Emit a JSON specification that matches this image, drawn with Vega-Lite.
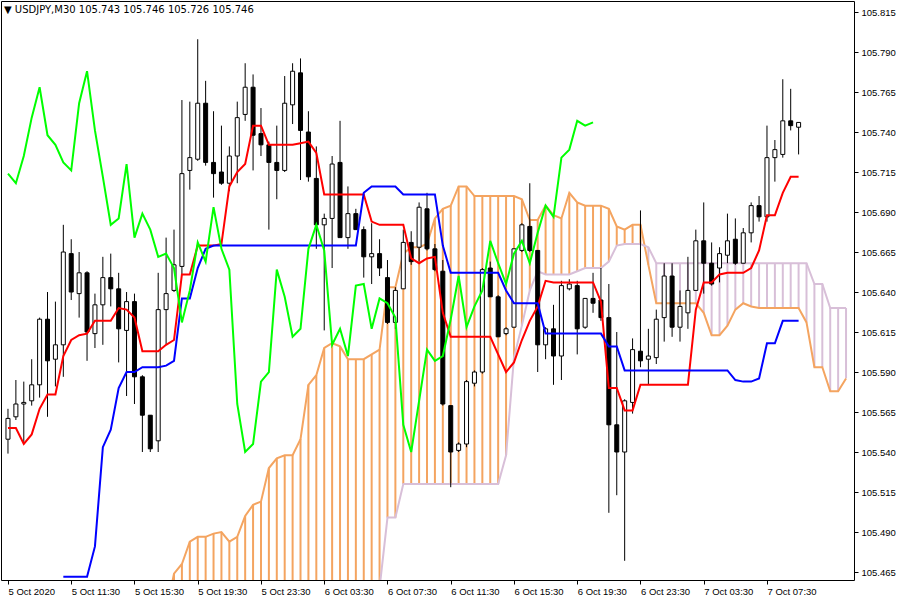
{
  "$schema": "https://vega.github.io/schema/vega-lite/v6.json",
  "width": 853,
  "height": 579,
  "autosize": {"type": "none"},
  "padding": {"left": 1, "top": 1, "right": 46, "bottom": 20},
  "background": "white",
  "title": {"text": "▼ USDJPY,M30  105.743 105.746 105.726 105.746", "anchor": "start", "frame": "group", "orient": "top", "offset": -14, "dx": 3, "fontSize": 10, "font": "DejaVu Sans", "fontWeight": "normal", "color": "black"},
  "config": {
    "view": {"stroke": "black", "strokeWidth": 1},
    "axis": {"labelFont": "Liberation Sans", "labelFontSize": 9.5, "labelColor": "black", "tickColor": "black", "grid": false, "domain": false}
  },
  "datasets": {
    "candles": [
      {"i":0,"o":105.548,"h":105.567,"l":105.539,"c":105.561},
      {"i":1,"o":105.562,"h":105.585,"l":105.560,"c":105.570},
      {"i":2,"o":105.570,"h":105.584,"l":105.545,"c":105.571},
      {"i":3,"o":105.572,"h":105.598,"l":105.569,"c":105.582},
      {"i":4,"o":105.582,"h":105.624,"l":105.574,"c":105.623},
      {"i":5,"o":105.623,"h":105.640,"l":105.562,"c":105.597},
      {"i":6,"o":105.598,"h":105.634,"l":105.581,"c":105.607},
      {"i":7,"o":105.607,"h":105.682,"l":105.587,"c":105.665},
      {"i":8,"o":105.664,"h":105.673,"l":105.635,"c":105.640},
      {"i":9,"o":105.639,"h":105.665,"l":105.624,"c":105.652},
      {"i":10,"o":105.652,"h":105.653,"l":105.597,"c":105.615},
      {"i":11,"o":105.614,"h":105.639,"l":105.605,"c":105.632},
      {"i":12,"o":105.632,"h":105.662,"l":105.607,"c":105.649},
      {"i":13,"o":105.649,"h":105.664,"l":105.631,"c":105.642},
      {"i":14,"o":105.642,"h":105.652,"l":105.596,"c":105.617},
      {"i":15,"o":105.616,"h":105.640,"l":105.575,"c":105.634},
      {"i":16,"o":105.634,"h":105.639,"l":105.570,"c":105.587},
      {"i":17,"o":105.587,"h":105.588,"l":105.540,"c":105.563},
      {"i":18,"o":105.563,"h":105.563,"l":105.540,"c":105.542},
      {"i":19,"o":105.547,"h":105.652,"l":105.540,"c":105.629},
      {"i":20,"o":105.629,"h":105.674,"l":105.607,"c":105.639},
      {"i":21,"o":105.641,"h":105.679,"l":105.640,"c":105.657},
      {"i":22,"o":105.656,"h":105.760,"l":105.651,"c":105.714},
      {"i":23,"o":105.716,"h":105.759,"l":105.704,"c":105.724},
      {"i":24,"o":105.723,"h":105.798,"l":105.722,"c":105.758},
      {"i":25,"o":105.758,"h":105.772,"l":105.719,"c":105.721},
      {"i":26,"o":105.721,"h":105.753,"l":105.699,"c":105.714},
      {"i":27,"o":105.715,"h":105.744,"l":105.707,"c":105.708},
      {"i":28,"o":105.708,"h":105.731,"l":105.703,"c":105.725},
      {"i":29,"o":105.725,"h":105.759,"l":105.708,"c":105.749},
      {"i":30,"o":105.751,"h":105.783,"l":105.747,"c":105.768},
      {"i":31,"o":105.768,"h":105.776,"l":105.716,"c":105.738},
      {"i":32,"o":105.739,"h":105.755,"l":105.725,"c":105.732},
      {"i":33,"o":105.732,"h":105.734,"l":105.679,"c":105.721},
      {"i":34,"o":105.721,"h":105.744,"l":105.698,"c":105.716},
      {"i":35,"o":105.716,"h":105.775,"l":105.715,"c":105.758},
      {"i":36,"o":105.757,"h":105.783,"l":105.745,"c":105.778},
      {"i":37,"o":105.777,"h":105.786,"l":105.710,"c":105.741},
      {"i":38,"o":105.740,"h":105.753,"l":105.709,"c":105.712},
      {"i":39,"o":105.711,"h":105.731,"l":105.667,"c":105.682},
      {"i":40,"o":105.682,"h":105.689,"l":105.616,"c":105.686},
      {"i":41,"o":105.686,"h":105.725,"l":105.655,"c":105.720},
      {"i":42,"o":105.721,"h":105.747,"l":105.674,"c":105.674},
      {"i":43,"o":105.674,"h":105.706,"l":105.667,"c":105.689},
      {"i":44,"o":105.689,"h":105.692,"l":105.679,"c":105.679},
      {"i":45,"o":105.679,"h":105.681,"l":105.649,"c":105.662},
      {"i":46,"o":105.662,"h":105.683,"l":105.645,"c":105.664},
      {"i":47,"o":105.664,"h":105.673,"l":105.650,"c":105.655},
      {"i":48,"o":105.649,"h":105.660,"l":105.620,"c":105.621},
      {"i":49,"o":105.621,"h":105.643,"l":105.617,"c":105.641},
      {"i":50,"o":105.642,"h":105.679,"l":105.642,"c":105.671},
      {"i":51,"o":105.671,"h":105.678,"l":105.657,"c":105.659},
      {"i":52,"o":105.668,"h":105.696,"l":105.659,"c":105.693},
      {"i":53,"o":105.692,"h":105.702,"l":105.666,"c":105.667},
      {"i":54,"o":105.667,"h":105.670,"l":105.653,"c":105.654},
      {"i":55,"o":105.653,"h":105.660,"l":105.569,"c":105.570},
      {"i":56,"o":105.569,"h":105.569,"l":105.518,"c":105.540},
      {"i":57,"o":105.541,"h":105.546,"l":105.540,"c":105.545},
      {"i":58,"o":105.545,"h":105.585,"l":105.543,"c":105.584},
      {"i":59,"o":105.583,"h":105.591,"l":105.581,"c":105.590},
      {"i":60,"o":105.590,"h":105.655,"l":105.589,"c":105.654},
      {"i":61,"o":105.655,"h":105.659,"l":105.637,"c":105.637},
      {"i":62,"o":105.637,"h":105.638,"l":105.612,"c":105.612},
      {"i":63,"o":105.614,"h":105.618,"l":105.613,"c":105.617},
      {"i":64,"o":105.618,"h":105.667,"l":105.618,"c":105.667},
      {"i":65,"o":105.666,"h":105.683,"l":105.665,"c":105.682},
      {"i":66,"o":105.681,"h":105.708,"l":105.665,"c":105.666},
      {"i":67,"o":105.666,"h":105.666,"l":105.590,"c":105.607},
      {"i":68,"o":105.607,"h":105.618,"l":105.598,"c":105.617},
      {"i":69,"o":105.617,"h":105.632,"l":105.582,"c":105.600},
      {"i":70,"o":105.600,"h":105.647,"l":105.585,"c":105.644},
      {"i":71,"o":105.642,"h":105.648,"l":105.641,"c":105.645},
      {"i":72,"o":105.644,"h":105.647,"l":105.601,"c":105.617},
      {"i":73,"o":105.618,"h":105.636,"l":105.617,"c":105.636},
      {"i":74,"o":105.636,"h":105.652,"l":105.627,"c":105.633},
      {"i":75,"o":105.635,"h":105.655,"l":105.622,"c":105.624},
      {"i":76,"o":105.624,"h":105.645,"l":105.502,"c":105.557},
      {"i":77,"o":105.557,"h":105.615,"l":105.513,"c":105.540},
      {"i":78,"o":105.540,"h":105.573,"l":105.472,"c":105.572},
      {"i":79,"o":105.571,"h":105.611,"l":105.564,"c":105.604},
      {"i":80,"o":105.603,"h":105.691,"l":105.593,"c":105.597},
      {"i":81,"o":105.598,"h":105.617,"l":105.582,"c":105.600},
      {"i":82,"o":105.599,"h":105.629,"l":105.595,"c":105.623},
      {"i":83,"o":105.624,"h":105.658,"l":105.609,"c":105.650},
      {"i":84,"o":105.650,"h":105.658,"l":105.612,"c":105.618},
      {"i":85,"o":105.618,"h":105.641,"l":105.609,"c":105.631},
      {"i":86,"o":105.627,"h":105.662,"l":105.617,"c":105.641},
      {"i":87,"o":105.641,"h":105.679,"l":105.641,"c":105.672},
      {"i":88,"o":105.672,"h":105.696,"l":105.639,"c":105.658},
      {"i":89,"o":105.658,"h":105.671,"l":105.644,"c":105.645},
      {"i":90,"o":105.655,"h":105.668,"l":105.646,"c":105.664},
      {"i":91,"o":105.663,"h":105.689,"l":105.658,"c":105.672},
      {"i":92,"o":105.673,"h":105.686,"l":105.657,"c":105.658},
      {"i":93,"o":105.658,"h":105.680,"l":105.658,"c":105.677},
      {"i":94,"o":105.677,"h":105.696,"l":105.671,"c":105.694},
      {"i":95,"o":105.694,"h":105.700,"l":105.684,"c":105.687},
      {"i":96,"o":105.687,"h":105.744,"l":105.684,"c":105.724},
      {"i":97,"o":105.724,"h":105.735,"l":105.709,"c":105.729},
      {"i":98,"o":105.726,"h":105.773,"l":105.724,"c":105.747},
      {"i":99,"o":105.747,"h":105.767,"l":105.741,"c":105.744},
      {"i":100,"o":105.743,"h":105.746,"l":105.726,"c":105.746}
    ],
    "ind": [
      {"i":0,"tenkan":105.555,"chikou":105.714},
      {"i":1,"tenkan":105.555,"chikou":105.708},
      {"i":2,"tenkan":105.545,"chikou":105.725},
      {"i":3,"tenkan":105.551,"chikou":105.749},
      {"i":4,"tenkan":105.567,"chikou":105.768},
      {"i":5,"tenkan":105.576,"chikou":105.738},
      {"i":6,"tenkan":105.576,"chikou":105.732},
      {"i":7,"tenkan":105.600,"kijun":105.462,"chikou":105.721},
      {"i":8,"tenkan":105.610,"kijun":105.462,"chikou":105.716},
      {"i":9,"tenkan":105.613,"kijun":105.462,"chikou":105.758},
      {"i":10,"tenkan":105.614,"kijun":105.462,"chikou":105.778},
      {"i":11,"tenkan":105.622,"kijun":105.481,"chikou":105.741},
      {"i":12,"tenkan":105.622,"kijun":105.543,"chikou":105.712},
      {"i":13,"tenkan":105.622,"kijun":105.554,"chikou":105.682},
      {"i":14,"tenkan":105.630,"kijun":105.580,"chikou":105.686},
      {"i":15,"tenkan":105.629,"kijun":105.590,"chikou":105.720},
      {"i":16,"tenkan":105.624,"kijun":105.590,"chikou":105.674},
      {"i":17,"tenkan":105.603,"kijun":105.593,"chikou":105.689},
      {"i":18,"tenkan":105.603,"kijun":105.593,"chikou":105.679},
      {"i":19,"tenkan":105.603,"kijun":105.593,"chikou":105.662},
      {"i":20,"tenkan":105.607,"kijun":105.594,"chikou":105.664,"spanA":105.440,"spanB":105.40},
      {"i":21,"tenkan":105.610,"kijun":105.597,"chikou":105.655,"spanA":105.464,"spanB":105.40},
      {"i":22,"tenkan":105.651,"kijun":105.636,"chikou":105.621,"spanA":105.470,"spanB":105.40},
      {"i":23,"tenkan":105.651,"kijun":105.636,"chikou":105.641,"spanA":105.484,"spanB":105.40},
      {"i":24,"tenkan":105.669,"kijun":105.655,"chikou":105.671,"spanA":105.487,"spanB":105.40},
      {"i":25,"tenkan":105.669,"kijun":105.667,"chikou":105.659,"spanA":105.487,"spanB":105.40},
      {"i":26,"tenkan":105.669,"kijun":105.669,"chikou":105.693,"spanA":105.489,"spanB":105.40},
      {"i":27,"tenkan":105.670,"kijun":105.669,"chikou":105.667,"spanA":105.490,"spanB":105.40},
      {"i":28,"tenkan":105.706,"kijun":105.669,"chikou":105.654,"spanA":105.484,"spanB":105.40},
      {"i":29,"tenkan":105.715,"kijun":105.669,"chikou":105.570,"spanA":105.487,"spanB":105.40},
      {"i":30,"tenkan":105.720,"kijun":105.669,"chikou":105.540,"spanA":105.500,"spanB":105.40},
      {"i":31,"tenkan":105.744,"kijun":105.669,"chikou":105.545,"spanA":105.507,"spanB":105.40},
      {"i":32,"tenkan":105.744,"kijun":105.669,"chikou":105.584,"spanA":105.509,"spanB":105.40},
      {"i":33,"tenkan":105.732,"kijun":105.669,"chikou":105.590,"spanA":105.530,"spanB":105.40},
      {"i":34,"tenkan":105.732,"kijun":105.669,"chikou":105.654,"spanA":105.536,"spanB":105.40},
      {"i":35,"tenkan":105.732,"kijun":105.669,"chikou":105.637,"spanA":105.538,"spanB":105.40},
      {"i":36,"tenkan":105.732,"kijun":105.669,"chikou":105.612,"spanA":105.538,"spanB":105.40},
      {"i":37,"tenkan":105.733,"kijun":105.669,"chikou":105.617,"spanA":105.548,"spanB":105.40},
      {"i":38,"tenkan":105.734,"kijun":105.669,"chikou":105.667,"spanA":105.582,"spanB":105.40},
      {"i":39,"tenkan":105.727,"kijun":105.669,"chikou":105.682,"spanA":105.588,"spanB":105.40},
      {"i":40,"tenkan":105.701,"kijun":105.669,"chikou":105.666,"spanA":105.605,"spanB":105.40},
      {"i":41,"tenkan":105.701,"kijun":105.669,"chikou":105.607,"spanA":105.608,"spanB":105.40},
      {"i":42,"tenkan":105.701,"kijun":105.669,"chikou":105.617,"spanA":105.606,"spanB":105.40},
      {"i":43,"tenkan":105.701,"kijun":105.669,"chikou":105.600,"spanA":105.598,"spanB":105.40},
      {"i":44,"tenkan":105.701,"kijun":105.669,"chikou":105.644,"spanA":105.598,"spanB":105.40},
      {"i":45,"tenkan":105.701,"kijun":105.702,"chikou":105.645,"spanA":105.598,"spanB":105.40},
      {"i":46,"tenkan":105.684,"kijun":105.706,"chikou":105.617,"spanA":105.601,"spanB":105.40},
      {"i":47,"tenkan":105.682,"kijun":105.706,"chikou":105.636,"spanA":105.604,"spanB":105.455},
      {"i":48,"tenkan":105.682,"kijun":105.706,"chikou":105.633,"spanA":105.643,"spanB":105.499},
      {"i":49,"tenkan":105.682,"kijun":105.706,"chikou":105.624,"spanA":105.643,"spanB":105.499},
      {"i":50,"tenkan":105.682,"kijun":105.701,"chikou":105.557,"spanA":105.664,"spanB":105.520},
      {"i":51,"tenkan":105.661,"kijun":105.701,"chikou":105.540,"spanA":105.668,"spanB":105.520},
      {"i":52,"tenkan":105.658,"kijun":105.701,"chikou":105.572,"spanA":105.668,"spanB":105.520},
      {"i":53,"tenkan":105.661,"kijun":105.701,"chikou":105.604,"spanA":105.670,"spanB":105.520},
      {"i":54,"tenkan":105.662,"kijun":105.701,"chikou":105.597,"spanA":105.686,"spanB":105.520},
      {"i":55,"tenkan":105.627,"kijun":105.669,"chikou":105.600,"spanA":105.692,"spanB":105.520},
      {"i":56,"tenkan":105.612,"kijun":105.652,"chikou":105.623,"spanA":105.694,"spanB":105.520},
      {"i":57,"tenkan":105.612,"kijun":105.652,"chikou":105.650,"spanA":105.706,"spanB":105.520},
      {"i":58,"tenkan":105.612,"kijun":105.652,"chikou":105.618,"spanA":105.706,"spanB":105.520},
      {"i":59,"tenkan":105.612,"kijun":105.652,"chikou":105.631,"spanA":105.700,"spanB":105.520},
      {"i":60,"tenkan":105.612,"kijun":105.652,"chikou":105.641,"spanA":105.700,"spanB":105.520},
      {"i":61,"tenkan":105.612,"kijun":105.652,"chikou":105.672,"spanA":105.700,"spanB":105.520},
      {"i":62,"tenkan":105.601,"kijun":105.652,"chikou":105.658,"spanA":105.700,"spanB":105.520},
      {"i":63,"tenkan":105.590,"kijun":105.641,"chikou":105.645,"spanA":105.700,"spanB":105.538},
      {"i":64,"tenkan":105.596,"kijun":105.633,"chikou":105.664,"spanA":105.700,"spanB":105.599},
      {"i":65,"tenkan":105.610,"kijun":105.633,"chikou":105.672,"spanA":105.698,"spanB":105.619},
      {"i":66,"tenkan":105.622,"kijun":105.633,"chikou":105.658,"spanA":105.685,"spanB":105.641},
      {"i":67,"tenkan":105.631,"kijun":105.633,"chikou":105.677,"spanA":105.685,"spanB":105.653},
      {"i":68,"tenkan":105.647,"kijun":105.614,"chikou":105.694,"spanA":105.694,"spanB":105.651},
      {"i":69,"tenkan":105.646,"kijun":105.614,"chikou":105.687,"spanA":105.688,"spanB":105.651},
      {"i":70,"tenkan":105.646,"kijun":105.614,"chikou":105.724,"spanA":105.686,"spanB":105.651},
      {"i":71,"tenkan":105.646,"kijun":105.614,"chikou":105.729,"spanA":105.702,"spanB":105.651},
      {"i":72,"tenkan":105.646,"kijun":105.614,"chikou":105.747,"spanA":105.696,"spanB":105.653},
      {"i":73,"tenkan":105.646,"kijun":105.614,"chikou":105.744,"spanA":105.694,"spanB":105.655},
      {"i":74,"tenkan":105.646,"kijun":105.614,"chikou":105.746,"spanA":105.694,"spanB":105.655},
      {"i":75,"tenkan":105.634,"kijun":105.614,"spanA":105.694,"spanB":105.655},
      {"i":76,"tenkan":105.580,"kijun":105.606,"spanA":105.692,"spanB":105.659},
      {"i":77,"tenkan":105.580,"kijun":105.606,"spanA":105.681,"spanB":105.669},
      {"i":78,"tenkan":105.566,"kijun":105.591,"spanA":105.679,"spanB":105.670},
      {"i":79,"tenkan":105.566,"kijun":105.591,"spanA":105.682,"spanB":105.670},
      {"i":80,"tenkan":105.582,"kijun":105.591,"spanA":105.682,"spanB":105.670},
      {"i":81,"tenkan":105.582,"kijun":105.591,"spanA":105.657,"spanB":105.668},
      {"i":82,"tenkan":105.582,"kijun":105.591,"spanA":105.633,"spanB":105.658},
      {"i":83,"tenkan":105.582,"kijun":105.591,"spanA":105.633,"spanB":105.658},
      {"i":84,"tenkan":105.582,"kijun":105.591,"spanA":105.633,"spanB":105.658},
      {"i":85,"tenkan":105.582,"kijun":105.591,"spanA":105.633,"spanB":105.658},
      {"i":86,"tenkan":105.582,"kijun":105.591,"spanA":105.633,"spanB":105.658},
      {"i":87,"tenkan":105.629,"kijun":105.591,"spanA":105.633,"spanB":105.658},
      {"i":88,"tenkan":105.646,"kijun":105.591,"spanA":105.627,"spanB":105.658},
      {"i":89,"tenkan":105.646,"kijun":105.591,"spanA":105.613,"spanB":105.658},
      {"i":90,"tenkan":105.651,"kijun":105.591,"spanA":105.613,"spanB":105.658},
      {"i":91,"tenkan":105.652,"kijun":105.591,"spanA":105.619,"spanB":105.658},
      {"i":92,"tenkan":105.652,"kijun":105.585,"spanA":105.629,"spanB":105.658},
      {"i":93,"tenkan":105.652,"kijun":105.584,"spanA":105.633,"spanB":105.658},
      {"i":94,"tenkan":105.655,"kijun":105.584,"spanA":105.631,"spanB":105.658},
      {"i":95,"tenkan":105.666,"kijun":105.586,"spanA":105.630,"spanB":105.658},
      {"i":96,"tenkan":105.688,"kijun":105.608,"spanA":105.630,"spanB":105.658},
      {"i":97,"tenkan":105.688,"kijun":105.608,"spanA":105.630,"spanB":105.658},
      {"i":98,"tenkan":105.702,"kijun":105.622,"spanA":105.630,"spanB":105.658},
      {"i":99,"tenkan":105.712,"kijun":105.622,"spanA":105.630,"spanB":105.658},
      {"i":100,"tenkan":105.712,"kijun":105.622,"spanA":105.630,"spanB":105.658},
      {"i":101,"spanA":105.621,"spanB":105.658},
      {"i":102,"spanA":105.593,"spanB":105.645},
      {"i":103,"spanA":105.593,"spanB":105.645},
      {"i":104,"spanA":105.578,"spanB":105.630},
      {"i":105,"spanA":105.578,"spanB":105.630},
      {"i":106,"spanA":105.586,"spanB":105.630}
    ]
  },
  "layer": [
    {
      "data": {"name": "ind"},
      "transform": [{"filter": "isValid(datum.spanA)"}],
      "mark": {"type": "rule", "strokeWidth": 2, "clip": true},
      "encoding": {
        "x": {"field": "i", "type": "quantitative", "scale": {"domain": [-0.25, 106.375], "nice": false, "zero": false},
          "axis": {"title": null, "orient": "bottom", "values": [0, 8, 16, 24, 32, 40, 48, 56, 64, 72, 80, 88, 96], "labelExpr": "['5 Oct 2020','5 Oct 11:30','5 Oct 15:30','5 Oct 19:30','5 Oct 23:30','6 Oct 03:30','6 Oct 07:30','6 Oct 11:30','6 Oct 15:30','6 Oct 19:30','6 Oct 23:30','7 Oct 03:30','7 Oct 07:30'][round(datum.value/8)]", "labelAlign": "left", "labelBaseline": "top", "labelPadding": 2, "tickSize": 4, "labelFlush": false, "labelOverlap": false}},
        "y": {"field": "spanA", "type": "quantitative", "scale": {"domain": [105.46, 105.8219], "nice": false, "zero": false},
          "axis": {"title": null, "orient": "right", "values": [105.465, 105.49, 105.515, 105.54, 105.565, 105.59, 105.615, 105.64, 105.665, 105.69, 105.715, 105.74, 105.765, 105.79, 105.815], "format": ".3f", "tickSize": 4, "labelPadding": 3, "labelFlush": false, "labelOverlap": false}},
        "y2": {"field": "spanB"},
        "stroke": {"condition": {"test": "datum.spanA >= datum.spanB", "value": "#F4A460"}, "value": "#D8BFD8"}
      }
    },
    {
      "data": {"name": "ind"},
      "transform": [{"filter": "isValid(datum.spanA)"}],
      "mark": {"type": "line", "color": "#F4A460", "strokeWidth": 2, "clip": true},
      "encoding": {"x": {"field": "i", "type": "quantitative"}, "y": {"field": "spanA", "type": "quantitative"}}
    },
    {
      "data": {"name": "ind"},
      "transform": [{"filter": "isValid(datum.spanB)"}],
      "mark": {"type": "line", "color": "#D8BFD8", "strokeWidth": 2, "clip": true},
      "encoding": {"x": {"field": "i", "type": "quantitative"}, "y": {"field": "spanB", "type": "quantitative"}}
    },
    {
      "mark": {"type": "rule", "color": "#C0C0C0", "strokeWidth": 1},
      "encoding": {"y": {"datum": 105.746}}
    },
    {
      "data": {"name": "candles"},
      "mark": {"type": "rule", "color": "black", "strokeWidth": 1, "clip": true},
      "encoding": {"x": {"field": "i", "type": "quantitative"}, "y": {"field": "l", "type": "quantitative"}, "y2": {"field": "h"}}
    },
    {
      "data": {"name": "candles"},
      "mark": {"type": "bar", "size": 4, "stroke": "black", "strokeWidth": 1, "clip": true},
      "encoding": {
        "x": {"field": "i", "type": "quantitative"},
        "y": {"field": "o", "type": "quantitative"},
        "y2": {"field": "c"},
        "fill": {"condition": {"test": "datum.c >= datum.o", "value": "white"}, "value": "black"}
      }
    },
    {
      "data": {"name": "ind"},
      "transform": [{"filter": "isValid(datum.tenkan)"}],
      "mark": {"type": "line", "color": "#FF0000", "strokeWidth": 2, "clip": true},
      "encoding": {"x": {"field": "i", "type": "quantitative"}, "y": {"field": "tenkan", "type": "quantitative"}}
    },
    {
      "data": {"name": "ind"},
      "transform": [{"filter": "isValid(datum.kijun)"}],
      "mark": {"type": "line", "color": "#0000FF", "strokeWidth": 2, "clip": true},
      "encoding": {"x": {"field": "i", "type": "quantitative"}, "y": {"field": "kijun", "type": "quantitative"}}
    },
    {
      "data": {"name": "ind"},
      "transform": [{"filter": "isValid(datum.chikou)"}],
      "mark": {"type": "line", "color": "#00FF00", "strokeWidth": 2, "clip": true},
      "encoding": {"x": {"field": "i", "type": "quantitative"}, "y": {"field": "chikou", "type": "quantitative"}}
    },
    {
      "mark": {"type": "rect", "color": "black", "clip": false},
      "encoding": {"x": {"datum": 106.625}, "x2": {"datum": 111.875}, "y": {"datum": 105.7506}, "y2": {"datum": 105.7413}}
    },
    {
      "mark": {"type": "text", "color": "white", "align": "left", "baseline": "middle", "font": "Liberation Sans", "fontSize": 9.5, "clip": false},
      "encoding": {"x": {"datum": 106.9}, "y": {"datum": 105.746}, "text": {"value": "105.746"}}
    }
  ]
}
